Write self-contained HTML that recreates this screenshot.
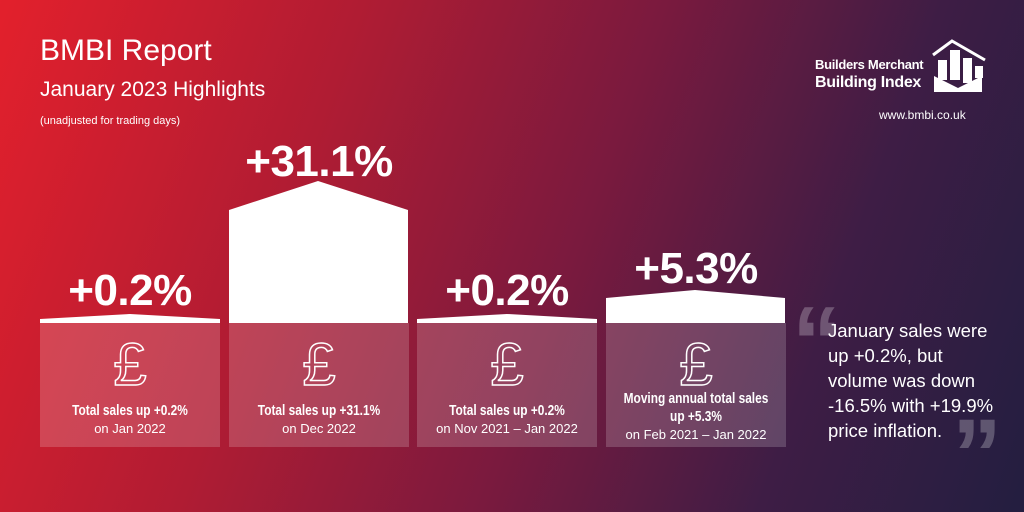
<!DOCTYPE html>
<html><head><style>
body{margin:0;width:1024px;height:512px;overflow:hidden;}
#bg{position:absolute;left:0;top:0;width:1024px;height:512px;background:linear-gradient(110deg,#e3202c 0%,#b01c33 30%,#7a1a3e 55%,#3e1d45 78%,#231e40 100%);font-family:"Liberation Sans",sans-serif;color:#fff;overflow:hidden}
.t{position:absolute;white-space:nowrap}
.box{position:absolute;top:323px;width:180px;height:124px;background:rgba(255,255,255,0.18);text-align:center}
.pound{position:absolute;top:12px;left:0;width:100%;font-size:60px;color:transparent;-webkit-text-stroke:1.5px #fff;font-family:"Liberation Sans",sans-serif;line-height:60px}
.l1{position:absolute;top:80px;left:-20px;width:220px;font-weight:bold;font-size:14.5px;transform:scaleX(0.82)}
.l2{position:absolute;top:98px;width:100%;font-size:13px}
.pct{position:absolute;font-weight:bold;font-size:44px;text-align:center;width:180px;letter-spacing:-0.5px}
.q{position:absolute;font-size:100px;font-weight:bold;color:rgba(255,255,255,0.25);font-family:"Liberation Sans",sans-serif;line-height:100px}
</style></head><body><div id="bg">
<div class="t" style="left:40px;top:34px;font-size:30px">BMBI Report</div>
<div class="t" style="left:40px;top:78px;font-size:21px">January 2023 Highlights</div>
<div class="t" style="left:40px;top:115px;font-size:11px">(unadjusted for trading days)</div>
<div class="t" style="left:815px;top:57px;font-size:13px;font-weight:bold;letter-spacing:-0.3px">Builders Merchant</div>
<div class="t" style="left:815px;top:74px;font-size:16px;font-weight:bold;letter-spacing:-0.3px">Building Index</div>
<div class="t" style="left:879px;top:108px;font-size:12px">www.bmbi.co.uk</div>
<svg style="position:absolute;left:930px;top:38px" width="58" height="54"><path d="M3 17 L22 3 L55 22" fill="none" stroke="#fff" stroke-width="3"/><path d="M4 54 V38 L28 50 L52 38 V54Z M8 22h9v20h-9z M20 12h10v30h-10z M33 20h9v25h-9z M45 28h8v12h-8z" fill="#fff"/></svg>
<svg style="position:absolute;left:0;top:0" width="1024" height="512">
<path d="M40 319 L130 314 L220 319 V323 H40Z" fill="#fff"/>
<path d="M229 210 L318 181 L408 210 V323 H229Z" fill="#fff"/>
<path d="M417 319 L507 314 L597 319 V323 H417Z" fill="#fff"/>
<path d="M606 298 L695 290 L785 298 V323 H606Z" fill="#fff"/>
</svg>
<div class="pct" style="left:40px;top:266px">+0.2%</div>
<div class="pct" style="left:229px;top:137px">+31.1%</div>
<div class="pct" style="left:417px;top:266px">+0.2%</div>
<div class="pct" style="left:606px;top:244px">+5.3%</div>
<div class="box" style="left:40px"><div class="pound">£</div><div class="l1">Total sales up +0.2%</div><div class="l2">on Jan 2022</div></div>
<div class="box" style="left:229px"><div class="pound">£</div><div class="l1">Total sales up +31.1%</div><div class="l2">on Dec 2022</div></div>
<div class="box" style="left:417px"><div class="pound">£</div><div class="l1">Total sales up +0.2%</div><div class="l2">on Nov 2021 – Jan 2022</div></div>
<div class="box" style="left:606px"><div class="pound">£</div><div class="l1" style="top:67px;line-height:18px">Moving annual total sales<br>up +5.3%</div><div class="l2" style="top:104px">on Feb 2021 – Jan 2022</div></div>
<div class="q" style="left:792px;top:292px">“</div>
<div class="q" style="left:952px;top:405px">”</div>
<div class="t" style="left:828px;top:318px;font-size:18.5px;line-height:25px">January sales were<br>up +0.2%, but<br>volume was down<br>-16.5% with +19.9%<br>price inflation.</div>
</div></body></html>
